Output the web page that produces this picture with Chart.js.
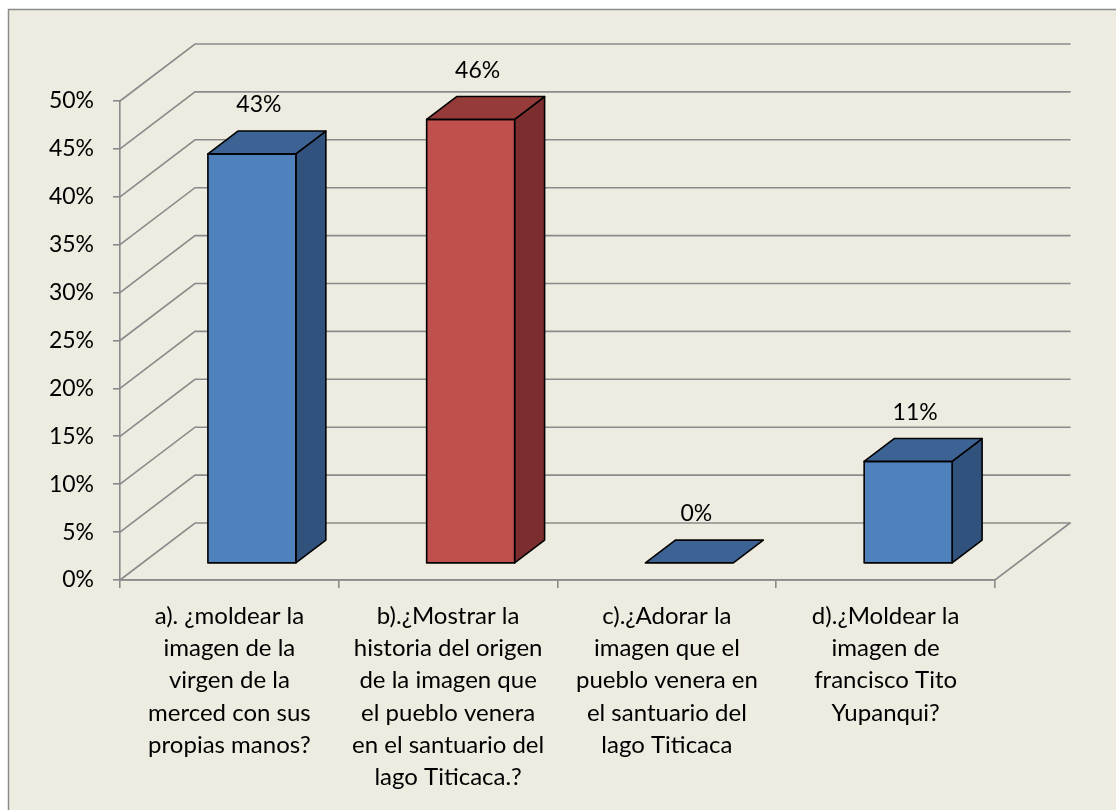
<!DOCTYPE html>
<html>
<head>
<meta charset="utf-8">
<script src="https://cdn.jsdelivr.net/npm/chart.js@4/dist/chart.umd.min.js"></script>
<style>
html,body{margin:0;padding:0;background:#fff;}
canvas{display:block;}
</style>
</head>
<body>
<canvas id="c" width="1116" height="810"></canvas>
<script>
const categories = [
  ["a). ¿moldear la","imagen de la","virgen de la","merced con sus","propias manos?"],
  ["b).¿Mostrar la","historia del origen","de la imagen que","el pueblo venera","en el santuario del","lago Titicaca.?"],
  ["c).¿Adorar la","imagen que el","pueblo venera en","el santuario del","lago Titicaca"],
  ["d).¿Moldear la","imagen de","francisco Tito","Yupanqui?"]
];
const values = [0.427, 0.463, 0, 0.106];
const frontColors = ['#4F81BD','#C0504D','#4F81BD','#4F81BD'];
const topColors = ['#3C6394','#953C3A','#3C6394','#3C6394'];
const sideColors = ['#31527D','#7B2E2D','#31527D','#31527D'];
const yMin = 0, yMax = 0.5, yStep = 0.05;

const FONT = 'Lato, "Open Sans", sans-serif';
const GRID = '#8A8A8A';
const DX = 75, DY = 57;          // wall depth offset
const BAR_D0 = 0.3, BAR_D1 = 0.4; // bar front depth fraction, bar depth fraction

const pct = v => Math.round(v * 100) + '%';

const threeD = {
  id: 'threeD',
  beforeDraw(chart) {
    const ctx = chart.ctx;
    ctx.save();
    ctx.fillStyle = '#ffffff';
    ctx.fillRect(0, 0, chart.width, chart.height);
    ctx.fillStyle = '#EEECE1';
    ctx.fillRect(9, 10, chart.width, chart.height);
    ctx.strokeStyle = '#8C8C8C';
    ctx.lineWidth = 1.5;
    ctx.strokeRect(8.5, 9.5, chart.width + 20, chart.height + 20);
    ctx.restore();
  },
  beforeDatasetsDraw(chart) {
    const ctx = chart.ctx, y = chart.scales.y, x = chart.scales.x;
    const L = x.left, R = x.right;
    ctx.save();
    ctx.strokeStyle = GRID;
    ctx.lineWidth = 1.6;
    ctx.lineCap = 'round';
    for (const t of y.ticks) {
      const py = y.getPixelForValue(t.value);
      ctx.beginPath();
      ctx.moveTo(L, py);
      ctx.lineTo(L + DX, py - DY);
      ctx.lineTo(R + DX, py - DY);
      ctx.stroke();
    }
    const p0 = y.getPixelForValue(0);
    ctx.beginPath();
    ctx.moveTo(L, p0);
    ctx.lineTo(R, p0);
    ctx.lineTo(R + DX, p0 - DY);
    ctx.stroke();
    ctx.restore();
  },
  afterDatasetsDraw(chart) {
    const ctx = chart.ctx, y = chart.scales.y;
    const meta = chart.getDatasetMeta(0);
    const fx = DX * BAR_D0, fy = DY * BAR_D0, bx = DX * BAR_D1, by = DY * BAR_D1;
    ctx.save();
    ctx.lineJoin = 'round';
    ctx.strokeStyle = '#000';
    ctx.lineWidth = 1.6;
    meta.data.forEach((el, i) => {
      const w = el.width;
      const l = el.x - w / 2 + fx, r = el.x + w / 2 + fx;
      const b = y.getPixelForValue(0) - fy;
      const t = y.getPixelForValue(values[i]) - fy;
      if (b - t > 0.5) {
        ctx.fillStyle = sideColors[i];
        ctx.beginPath();
        ctx.moveTo(r, b); ctx.lineTo(r + bx, b - by); ctx.lineTo(r + bx, t - by); ctx.lineTo(r, t); ctx.closePath();
        ctx.fill(); ctx.stroke();
        ctx.fillStyle = frontColors[i];
        ctx.beginPath();
        ctx.rect(l, t, w, b - t);
        ctx.fill(); ctx.stroke();
      }
      ctx.fillStyle = topColors[i];
      ctx.beginPath();
      ctx.moveTo(l, t); ctx.lineTo(l + bx, t - by); ctx.lineTo(r + bx, t - by); ctx.lineTo(r, t); ctx.closePath();
      ctx.fill(); ctx.stroke();
      ctx.fillStyle = '#000';
      ctx.font = '23px ' + FONT;
      ctx.textAlign = 'center';
      ctx.textBaseline = 'alphabetic';
      ctx.fillText(pct(values[i]), (l + r) / 2 + 7, t - by - 19);
    });
    ctx.restore();
  }
};

new Chart(document.getElementById('c'), {
  type: 'bar',
  data: {
    labels: categories,
    datasets: [{
      data: values,
      backgroundColor: 'rgba(0,0,0,0)',
      borderWidth: 0,
      categoryPercentage: 1,
      barPercentage: 0.402
    }]
  },
  options: {
    responsive: false,
    animation: false,
    devicePixelRatio: 1,
    layout: { padding: { left: 0, right: 121, top: 101, bottom: 0 } },
    plugins: { legend: { display: false }, tooltip: { enabled: false } },
    scales: {
      y: {
        min: yMin, max: yMax,
        afterFit(s) { s.width = 120; },
        ticks: {
          stepSize: yStep,
          callback: v => pct(v),
          color: '#000',
          font: { family: FONT, size: 23 },
          padding: 19
        },
        grid: { drawOnChartArea: false, tickLength: 7, color: GRID, lineWidth: 1.6 },
        border: { display: true, color: GRID, width: 1.6 }
      },
      x: {
        afterFit(s) { s.height = 230; },
        ticks: {
          color: '#000',
          font: { family: FONT, size: 24, lineHeight: 1.345 },
          maxRotation: 0, minRotation: 0, autoSkip: false,
          padding: 12
        },
        grid: { drawOnChartArea: false, tickLength: 8, color: GRID, lineWidth: 1.6, offset: true },
        border: { display: true, color: GRID, width: 1.6 }
      }
    }
  },
  plugins: [threeD]
});
</script>
</body>
</html>
